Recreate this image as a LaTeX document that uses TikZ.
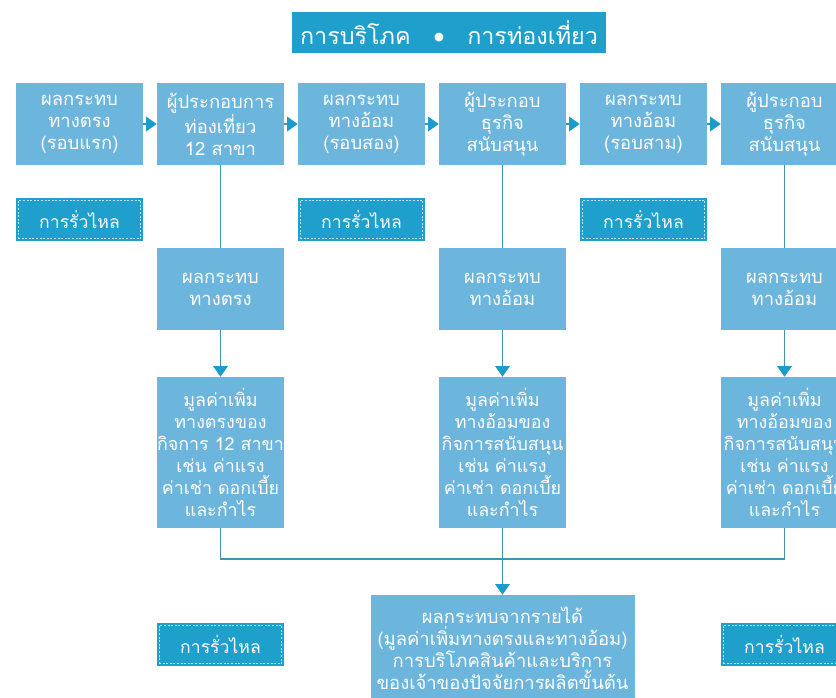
\documentclass[tikz,border=0pt]{standalone}
\usepackage{fontspec}
\newfontfamily\thaifont[Script=Thai]{Loma}
\newfontfamily\symfont{DejaVu Sans}
\usetikzlibrary{arrows.meta}
\definecolor{boxblue}{RGB}{108,181,221}
\definecolor{darkblue}{RGB}{31,159,204}
\definecolor{linecol}{RGB}{64,148,176}
\definecolor{tipcol}{RGB}{29,156,203}
\tikzset{
  box/.style={fill=boxblue, text=white, minimum width=95.25pt, minimum height=61.5pt,
    inner sep=1pt, align=center, font=\thaifont\fontsize{13.8}{16.5}\selectfont},
  tall/.style={box, minimum height=113.25pt, inner xsep=-5pt,
    font=\thaifont\fontsize{13.4}{16.5}\selectfont},
  leak/.style={fill=darkblue, text=white, minimum width=95.25pt, minimum height=32.25pt,
    inner sep=1pt, font=\thaifont\fontsize{13.2}{16.5}\selectfont},
  head/.style={fill=darkblue, text=white, minimum width=235pt, minimum height=30.75pt,
    inner sep=1pt, font=\thaifont\fontsize{17.5}{19}\selectfont},
  flow/.style={draw=linecol, line width=1pt},
  arr/.style={-{Triangle[length=8pt,width=11pt,color=tipcol]}},
  seam/.style={draw=white!70!darkblue, line width=0.6pt, dash pattern=on 1.5pt off 1.2pt}
}
\begin{document}
\begin{tikzpicture}[x=0.75pt,y=-0.75pt]
      \clip (0,0) rectangle (836,697);
      \fill[white] (0,0) rectangle (836,697);
      \path
        (449,32.5) node[head] (title){การบริโภค\quad\raisebox{3pt}{\symfont\fontsize{8.5}{10}\selectfont ●}\quad การท่องเที่ยว}
        (79.5,124) node[box] (t1){ผลกระทบ\\ทางตรง\\(รอบแรก)}
        (220.5,124) node[box] (t2){ผู้ประกอบการ\\ท่องเที่ยว\\12 สาขา}
        (361.5,124) node[box] (t3){ผลกระทบ\\ทางอ้อม\\(รอบสอง)}
        (502.5,124) node[box] (t4){ผู้ประกอบ\\ธุรกิจ\\สนับสนุน}
        (643.5,124) node[box] (t5){ผลกระทบ\\ทางอ้อม\\(รอบสาม)}
        (784.5,124) node[box] (t6){ผู้ประกอบ\\ธุรกิจ\\สนับสนุน}
        (79.5,219.5) node[leak] (l1){การรั่วไหล}
        (361.5,219.5) node[leak] (l3){การรั่วไหล}
        (643.5,219.5) node[leak] (l5){การรั่วไหล}
        (220.5,289) node[box] (m2){ผลกระทบ\\ทางตรง}
        (502.5,289) node[box] (m4){ผลกระทบ\\ทางอ้อม}
        (784.5,289) node[box] (m6){ผลกระทบ\\ทางอ้อม}
        (220.5,452.5) node[tall] (v2){มูลค่าเพิ่ม\\ทางตรงของ\\กิจการ 12 สาขา\\เช่น ค่าแรง\\ค่าเช่า ดอกเบี้ย\\และกำไร}
        (502.5,452.5) node[tall] (v4){มูลค่าเพิ่ม\\ทางอ้อมของ\\กิจการสนับสนุน\\เช่น ค่าแรง\\ค่าเช่า ดอกเบี้ย\\และกำไร}
        (784.5,452.5) node[tall] (v6){มูลค่าเพิ่ม\\ทางอ้อมของ\\กิจการสนับสนุน\\เช่น ค่าแรง\\ค่าเช่า ดอกเบี้ย\\และกำไร}
        (502.5,648) node[box, minimum width=198pt, minimum height=79.5pt] (sum){ผลกระทบจากรายได้\\(มูลค่าเพิ่มทางตรงและทางอ้อม)\\การบริโภคสินค้าและบริการ\\ของเจ้าของปัจจัยการผลิตขั้นต้น}
        (220.5,644.5) node[leak] (lb2){การรั่วไหล}
        (784.5,644.5) node[leak] (lb6){การรั่วไหล};
      \coordinate (join) at (502.5,559);
      \foreach \n in {l1,l3,l5,lb2,lb6}
        \draw[seam] ([shift={(2.5,-2.5)}]\n.south west) rectangle ([shift={(-2.5,2.5)}]\n.north east);
      \begin{scope}[flow]
        \draw[arr] (t1) to (t2);
        \draw[arr] (t2) to (t3);
        \draw[arr] (t3) to (t4);
        \draw[arr] (t4) to (t5);
        \draw[arr] (t5) to (t6);
        \draw (t2) to (m2);
        \draw (t4) to (m4);
        \draw (t6) to (m6);
        \draw[arr] (m2) to (v2);
        \draw[arr] (m4) to (v4);
        \draw[arr] (m6) to (v6);
        \draw (v2) |- (join) -| (v6);
        \draw[arr] (v4) to (sum);
      \end{scope}
    \end{tikzpicture}
\end{document}
